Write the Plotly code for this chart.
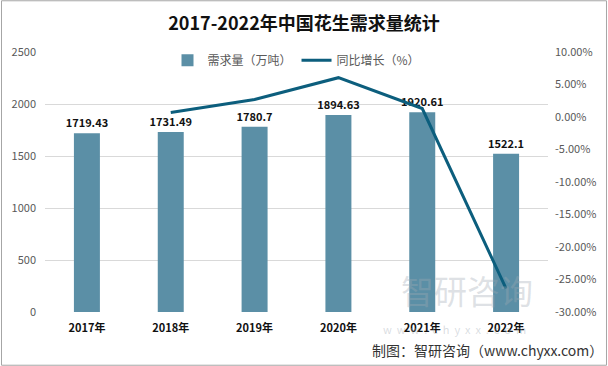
import plotly.graph_objects as go

years = ["2017年", "2018年", "2019年", "2020年", "2021年", "2022年"]
demand = [1719.43, 1731.49, 1780.7, 1894.63, 1920.61, 1522.1]
growth_years = ["2018年", "2019年", "2020年", "2021年", "2022年"]
growth = [0.70, 2.70, 6.05, 1.30, -26.4]
left_ticks = [0, 500, 1000, 1500, 2000, 2500]
right_ticks = [10, 5, 0, -5, -10, -15, -20, -25, -30]

FONT = "Noto Sans CJK SC, Liberation Sans, sans-serif"
BAR = "#5B8FA6"
LINE = "#0C5E7D"

fig = go.Figure()
fig.add_trace(go.Bar(
    x=years, y=demand, name="需求量（万吨）",
    marker=dict(color=BAR, line=dict(width=0)),
    width=0.31,
    text=[f"<b>{v:g}</b>" for v in demand], textposition="outside",
    textfont=dict(size=11, color="#111111", family=FONT),
    constraintext="none",
    cliponaxis=False,
))
fig.add_trace(go.Scatter(
    x=growth_years, y=growth, name="同比增长（%）", yaxis="y2",
    mode="lines", line=dict(color=LINE, width=3),
))

fig.update_layout(
    width=608, height=366,
    margin=dict(l=45, r=60, t=52, b=54),
    paper_bgcolor="white", plot_bgcolor="white",
    font=dict(family=FONT, color="#595959", size=11),
    title=dict(text="<b>2017-2022年中国花生需求量统计</b>", x=0.5, xanchor="center",
               y=0.935, yanchor="middle", font=dict(size=18, color="#111111", family=FONT)),
    showlegend=True,
    legend=dict(orientation="h", x=0.5, xanchor="center", y=0.968, yanchor="middle",
                bgcolor="rgba(0,0,0,0)", font=dict(size=12, color="#595959"),
                itemwidth=30, tracegroupgap=0),
    bargap=0.69,
    xaxis=dict(type="category", showgrid=False, showline=False, ticks="",
               tickfont=dict(size=11, color="#111111", family=FONT),
               ticktext=[f"<b>{y}</b>" for y in years], tickvals=years,
               ticklabelstandoff=8),
    yaxis=dict(range=[0, 2500], tickvals=left_ticks, showgrid=True, gridcolor="#D9D9D9",
               gridwidth=1, zeroline=False, showline=False, ticks="",
               tickfont=dict(size=11, color="#595959"), ticklabelstandoff=8),
    yaxis2=dict(range=[-30, 10], tickvals=right_ticks,
                ticktext=[f"{v:.2f}%" for v in right_ticks],
                overlaying="y", side="right", showgrid=False, zeroline=False,
                showline=False, ticks="", tickfont=dict(size=11, color="#595959"),
                ticklabelstandoff=6),
)

# outer frame
fig.add_shape(type="rect", xref="paper", yref="paper",
              x0=-45/503 + 0.003, x1=1 + 60/503 - 0.003,
              y0=-54/260 + 0.003, y1=1 + 52/260 - 0.003,
              line=dict(color="#A6A6A6", width=1), fillcolor="rgba(0,0,0,0)", layer="below")

# watermark
fig.add_annotation(text="智研咨询", xref="paper", yref="paper", x=(535 - 45) / 503,
                   y=(312 - 316) / 260, showarrow=False,
                   font=dict(size=33, color="rgba(160,170,180,0.35)", family=FONT))
fig.add_annotation(text="w  w  w  .  c  h  y  x  x  .  c  o  m", xref="paper", yref="paper",
                   x=(528 - 45) / 503, y=(312 - 339) / 260, showarrow=False,
                   font=dict(size=11, color="rgba(160,170,180,0.4)", family=FONT))
fig.add_annotation(text="制图：智研咨询（www.chyxx.com）", xref="paper", yref="paper",
                   x=(604 - 45) / 503, xanchor="right", y=(312 - 350) / 260, yanchor="middle",
                   showarrow=False, borderpad=0, font=dict(size=14, color="#333333", family=FONT))

fig.write_html("out.html", config={"displayModeBar": False},
               post_script="document.body.style.margin='0';")
